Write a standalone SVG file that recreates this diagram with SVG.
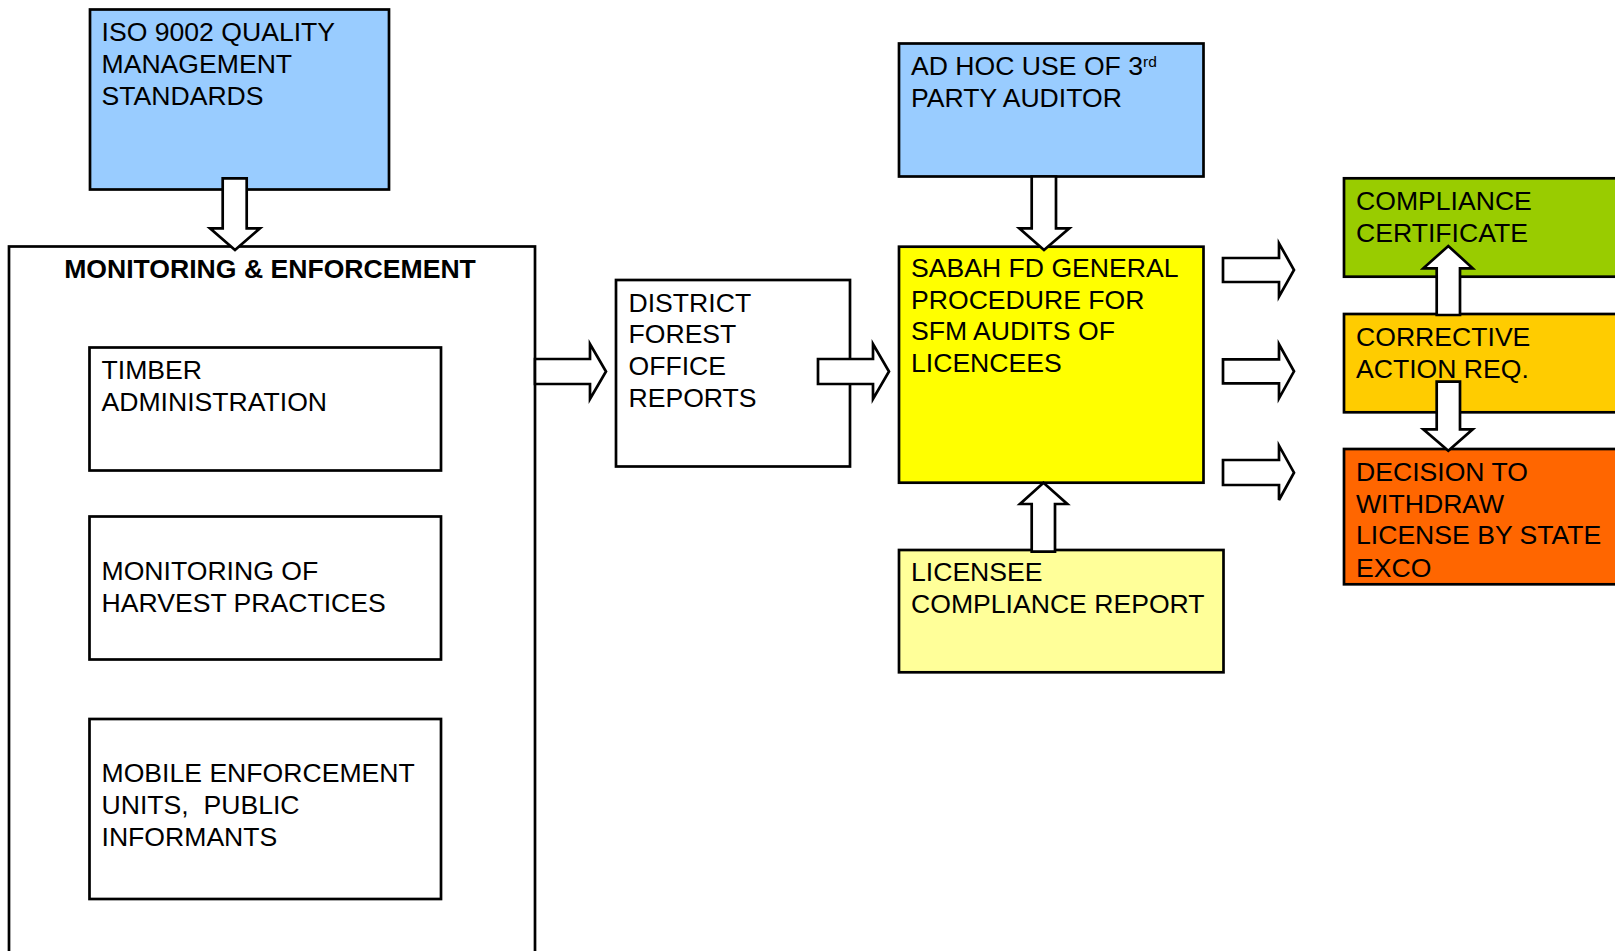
<svg xmlns="http://www.w3.org/2000/svg" width="1615" height="951" viewBox="0 0 1615 951">
<style>
.box{stroke:#000;stroke-width:2.7}
.t{font-family:"Liberation Sans",Arial,sans-serif;font-size:26.6px;fill:#000}
.b{font-weight:bold}
.arr{fill:#fff;stroke:#000;stroke-width:2.7;stroke-linejoin:miter}
</style>
<rect width="1615" height="951" fill="#fff"/>
<g id="iso">
<rect class="box" x="90" y="9.5" width="299" height="180" fill="#99CCFF"/>
<text class="t" x="101.5" y="41">ISO 9002 QUALITY</text>
<text class="t" x="101.5" y="73">MANAGEMENT</text>
<text class="t" x="101.5" y="104.5">STANDARDS</text>
</g>
<g id="monitoring">
<rect class="box" x="9" y="246.5" width="526" height="720" fill="#fff"/>
<text class="t b" x="270" y="278" text-anchor="middle">MONITORING &amp; ENFORCEMENT</text>
</g>
<g id="timber">
<rect class="box" x="89.5" y="347.5" width="351.5" height="123" fill="#fff"/>
<text class="t" x="101.5" y="379">TIMBER</text>
<text class="t" x="101.5" y="411">ADMINISTRATION</text>
</g>
<g id="harvest">
<rect class="box" x="89.5" y="516.5" width="351.5" height="143" fill="#fff"/>
<text class="t" x="101.5" y="580">MONITORING OF</text>
<text class="t" x="101.5" y="611.5">HARVEST PRACTICES</text>
</g>
<g id="mobile">
<rect class="box" x="89.5" y="719" width="351.5" height="180" fill="#fff"/>
<text class="t" x="101.5" y="782">MOBILE ENFORCEMENT</text>
<text class="t" x="101.5" y="814" xml:space="preserve" style="white-space:pre">UNITS,  PUBLIC</text>
<text class="t" x="101.5" y="846">INFORMANTS</text>
</g>
<g id="district">
<rect class="box" x="616" y="280" width="234" height="186.5" fill="#fff"/>
<text class="t" x="628.5" y="311.5">DISTRICT</text>
<text class="t" x="628.5" y="343.3">FOREST</text>
<text class="t" x="628.5" y="375">OFFICE</text>
<text class="t" x="628.5" y="406.7">REPORTS</text>
</g>
<g id="adhoc">
<rect class="box" x="899" y="43.5" width="304.5" height="133" fill="#99CCFF"/>
<text class="t" x="911" y="75">AD HOC USE OF 3<tspan font-size="15.5" dy="-8.5">rd</tspan></text>
<text class="t" x="911" y="106.7">PARTY AUDITOR</text>
</g>
<g id="sabah">
<rect class="box" x="899" y="246.7" width="304.5" height="236" fill="#FFFF00"/>
<text class="t" x="911" y="277">SABAH FD GENERAL</text>
<text class="t" x="911" y="308.6">PROCEDURE FOR</text>
<text class="t" x="911" y="340.3">SFM AUDITS OF</text>
<text class="t" x="911" y="372.3">LICENCEES</text>
</g>
<g id="licensee">
<rect class="box" x="899" y="550" width="324.5" height="122.3" fill="#FFFF99"/>
<text class="t" x="911" y="581">LICENSEE</text>
<text class="t" x="911" y="613.3">COMPLIANCE REPORT</text>
</g>
<g id="compliance">
<rect class="box" x="1344" y="178.3" width="290" height="98.4" fill="#99CC00"/>
<text class="t" x="1356" y="210">COMPLIANCE</text>
<text class="t" x="1356" y="241.7">CERTIFICATE</text>
</g>
<g id="corrective">
<rect class="box" x="1344" y="314" width="290" height="98.3" fill="#FFCC00"/>
<text class="t" x="1356" y="345.7">CORRECTIVE</text>
<text class="t" x="1356" y="378.3">ACTION REQ.</text>
</g>
<g id="decision">
<rect class="box" x="1344" y="449" width="290" height="135.3" fill="#FF6600"/>
<text class="t" x="1356" y="481">DECISION TO</text>
<text class="t" x="1356" y="512.7">WITHDRAW</text>
<text class="t" x="1356" y="544.3">LICENSE BY STATE</text>
<text class="t" x="1356" y="576.7">EXCO</text>
</g>
<g id="connectors">
<polygon class="arr" points="222.7,178.3 246.7,178.3 246.7,228.3 260,228.3 235,250 210,228.3 222.7,228.3"/>
<polygon class="arr" points="535,359 590,359 590,344 606,371.5 590,399 590,384 535,384"/>
<polygon class="arr" points="818,359 873,359 873,344 889,371.5 873,399 873,384 818,384"/>
<polygon class="arr" points="1031.7,176.5 1056,176.5 1056,228.3 1069.3,228.3 1044,250 1019.3,228.3 1031.7,228.3"/>
<polygon class="arr" points="1031.7,551.7 1055,551.7 1055,504 1067.3,504 1043.5,482.7 1020,504 1031.7,504"/>
<polygon class="arr" points="1223,258 1279,258 1279,243.3 1294,270 1279,296.7 1279,282 1223,282"/>
<polygon class="arr" points="1223,359.3 1279,359.3 1279,344.3 1294,371.3 1279,398.3 1279,383.3 1223,383.3"/>
<polygon class="arr" points="1223,460 1279,460 1279,445.7 1294,472.7 1279,500 1279,485 1223,485"/>
<polygon class="arr" points="1436.7,315 1460,315 1460,268.3 1472.7,268.3 1448.3,246 1423.3,268.3 1436.7,268.3"/>
<polygon class="arr" points="1436.7,381.7 1460,381.7 1460,429.3 1472.7,429.3 1448.3,450.7 1423.3,429.3 1436.7,429.3"/>
</g>
</svg>
